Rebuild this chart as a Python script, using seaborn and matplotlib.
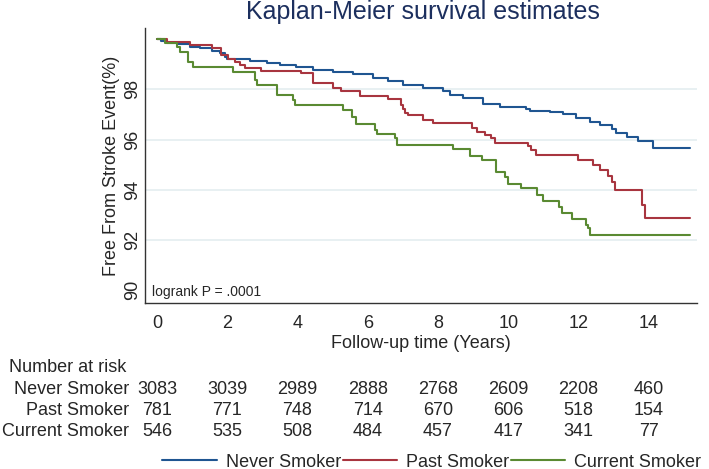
"""
Kaplan-Meier curves: stroke-free survival by smoking status
"""
import pandas as pd
import matplotlib
matplotlib.use("Agg")
import matplotlib.pyplot as plt
import matplotlib.transforms as mtransforms
from matplotlib.lines import Line2D
import seaborn as sns

sns.set_style("white")
plt.rcParams['font.family'] = ['Liberation Sans', 'DejaVu Sans']

GROUPS = ['Never Smoker', 'Past Smoker', 'Current Smoker']
COLORS = ['#1f5591', '#a8353f', '#5a8a32']
TITLE_COLOR = '#1c2f5e'
GRID_COLOR = '#e4eef0'

# Step times (years) and survival (%)
never_t = [0.00, 0.11, 0.28, 0.56, 0.94, 1.22, 1.56, 1.79, 1.93, 2.00, 2.65,
           3.12, 3.50, 3.97, 4.45, 5.02, 5.59, 6.16, 6.58, 7.01, 7.58, 8.15,
           8.34, 8.72, 9.29, 9.76, 10.51, 10.61, 11.18, 11.56, 11.94, 12.32,
           12.61, 12.94, 13.08, 13.37, 13.70, 14.12]
never_s = [100.00, 99.92, 99.86, 99.80, 99.70, 99.63, 99.53, 99.43, 99.30,
           99.20, 99.14, 99.06, 98.97, 98.88, 98.77, 98.70, 98.61, 98.46,
           98.33, 98.16, 98.04, 97.94, 97.77, 97.64, 97.40, 97.28, 97.23,
           97.14, 97.08, 97.00, 96.84, 96.71, 96.58, 96.41, 96.27, 96.12,
           95.93, 95.66]

past_t = [0.00, 0.28, 0.95, 1.58, 1.83, 2.02, 2.22, 2.35, 2.50, 2.97, 4.11,
          4.45, 5.02, 5.25, 5.78, 6.58, 6.96, 7.00, 7.06, 7.15, 7.58, 7.86,
          8.96, 9.10, 9.33, 9.52, 9.62, 10.56, 10.66, 10.78, 11.99, 12.42,
          12.61, 12.84, 12.94, 13.04, 13.80, 13.88]
past_s = [100.00, 99.90, 99.77, 99.63, 99.37, 99.23, 99.10, 98.97, 98.84,
          98.72, 98.64, 98.26, 98.06, 97.93, 97.72, 97.62, 97.37, 97.20,
          97.06, 96.98, 96.80, 96.67, 96.48, 96.32, 96.20, 96.05, 95.88,
          95.74, 95.58, 95.40, 95.18, 94.98, 94.78, 94.54, 94.30, 93.99,
          93.40, 92.88]

current_t = [0.00, 0.23, 0.56, 0.65, 0.88, 1.02, 2.16, 2.79, 2.85, 3.41, 3.87,
             3.92, 5.29, 5.55, 5.66, 6.22, 6.26, 6.77, 6.84, 8.43, 8.91, 9.24,
             9.65, 9.90, 10.00, 10.36, 10.81, 10.98, 11.45, 11.52, 11.80,
             12.21, 12.26, 12.32]
current_s = [100.00, 99.83, 99.70, 99.50, 99.10, 98.90, 98.70, 98.37, 98.17,
             97.77, 97.57, 97.37, 97.18, 96.91, 96.62, 96.38, 96.21, 96.05,
             95.78, 95.62, 95.35, 95.18, 94.72, 94.52, 94.25, 94.06, 93.79,
             93.55, 93.32, 93.06, 92.83, 92.59, 92.46, 92.20]

END_TIME = 15.17

# Number at risk table
risk_times = [0, 2, 4, 6, 8, 10, 12, 14]
risk_never = [3083, 3039, 2989, 2888, 2768, 2609, 2208, 460]
risk_past = [781, 771, 748, 714, 670, 606, 518, 154]
risk_current = [546, 535, 508, 484, 457, 417, 341, 77]

x_ticks = [0, 2, 4, 6, 8, 10, 12, 14]
y_ticks = [90, 92, 94, 96, 98]
grid_levels = [92, 94, 96, 98]

# Long-format frame for seaborn
frames = []
for name, t, s in zip(GROUPS, [never_t, past_t, current_t],
                      [never_s, past_s, current_s]):
    frames.append(pd.DataFrame({'time': t + [END_TIME],
                                'surv': s + [s[-1]],
                                'group': name}))
df = pd.concat(frames, ignore_index=True)

fig = plt.figure(figsize=(7.09, 4.69), dpi=100)
ax = fig.add_axes([0.2045, 0.354, 0.7785, 0.586])

for lev in grid_levels:
    ax.axhline(lev, color=GRID_COLOR, lw=1.2, zorder=0)

sns.lineplot(data=df, x='time', y='surv', hue='group', hue_order=GROUPS,
             palette=dict(zip(GROUPS, COLORS)), estimator=None, sort=False,
             drawstyle='steps-post', linewidth=1.5, legend=False, ax=ax)

ax.set_xlim(-0.34, 15.37)
ax.set_ylim(89.49, 100.44)
ax.set_xticks(x_ticks)
ax.set_yticks(y_ticks)
ax.tick_params(axis='both', labelsize=13, length=4.5, width=1, color='#333333')
ax.tick_params(axis='x', pad=4)
ax.tick_params(axis='y', pad=-1.5, labelrotation=90)
for lab in ax.get_yticklabels():
    lab.set_va('center')

for side in ['top', 'right']:
    ax.spines[side].set_visible(False)
for side in ['left', 'bottom']:
    ax.spines[side].set_color('#333333')
    ax.spines[side].set_linewidth(1)

ax.set_xlabel('Follow-up time (Years)', fontsize=13, labelpad=2)
ax.set_ylabel('Free From Stroke Event(%)', fontsize=13)
ax.yaxis.set_label_coords(-0.045, 0.5)

ax.text(0.013, 0.04, 'logrank P = .0001', transform=ax.transAxes,
        fontsize=10, ha='left', va='center')

fig.text(0.596, 0.974, 'Kaplan-Meier survival estimates', fontsize=18,
         color=TITLE_COLOR, ha='center', va='center')

# Number at risk
trans = mtransforms.blended_transform_factory(ax.transData, fig.transFigure)
fig.text(0.0127, 1 - 367 / 469, 'Number at risk', fontsize=13,
         ha='left', va='center')
row_y = [1 - 389 / 469, 1 - 410 / 469, 1 - 431 / 469]
for name, counts, y in zip(GROUPS, [risk_never, risk_past, risk_current], row_y):
    fig.text(0.182, y, name, fontsize=13, ha='right', va='center')
    for t, n in zip(risk_times, counts):
        ax.text(t, y, str(n), transform=trans, fontsize=13,
                ha='center', va='center', clip_on=False)

handles = [Line2D([0], [0], color=c, lw=1.5) for c in COLORS]
fig.legend(handles, GROUPS, loc='center', bbox_to_anchor=(0.609, 1 - 462 / 469),
           ncol=3, frameon=False, fontsize=13, handlelength=3.0,
           handletextpad=0.5, columnspacing=0.1)

plt.savefig('out.png', dpi=100)
plt.close()
